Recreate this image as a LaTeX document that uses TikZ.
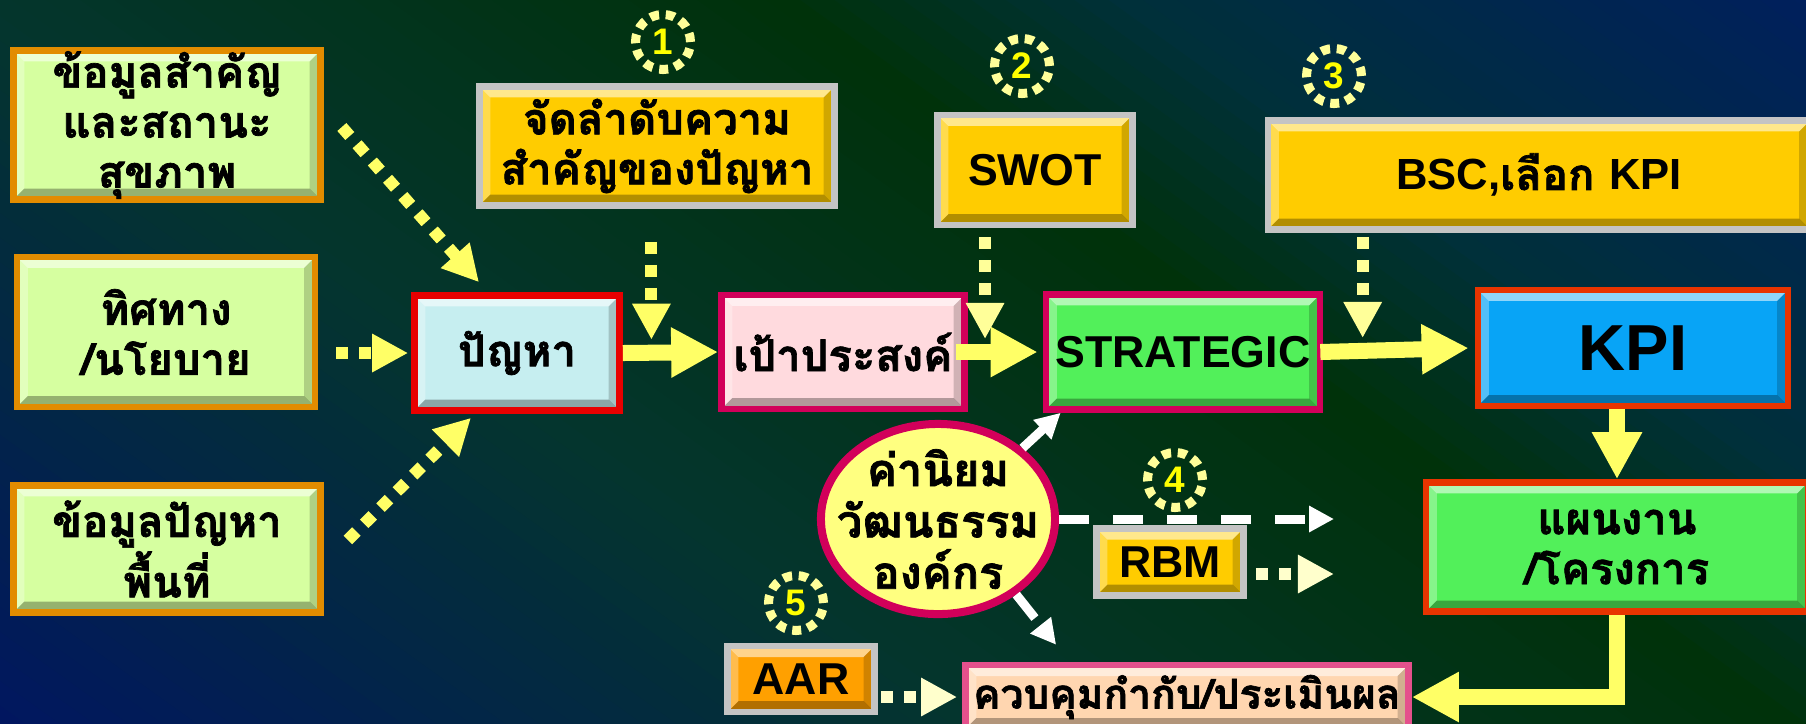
\documentclass[tikz,border=0pt]{standalone}
\usepackage{fontspec}
\setmainfont{Loma}[Script=Thai,BoldFeatures={FakeBold=1.6}]
\newfontfamily\latinfont{Liberation Sans}
\usepackage{xcolor}
\usetikzlibrary{arrows.meta,calc,positioning,shapes.geometric}
\definecolor{bgsky}{RGB}{0,30,96}
\definecolor{bgblue}{RGB}{0,48,58}
\definecolor{bggreen}{RGB}{0,50,10}
\definecolor{bgteal}{RGB}{4,53,46}
\definecolor{bgnavy}{RGB}{0,16,106}
\definecolor{limefill}{RGB}{214,255,160}
\definecolor{amberline}{RGB}{226,140,0}
\definecolor{cyanfill}{RGB}{198,238,240}
\definecolor{redline}{RGB}{232,0,0}
\definecolor{pinkfill}{RGB}{255,218,222}
\definecolor{crimsonline}{RGB}{210,0,90}
\definecolor{greenfill}{RGB}{82,240,90}
\definecolor{bluefill}{RGB}{8,164,246}
\definecolor{vermline}{RGB}{232,52,0}
\definecolor{goldfill}{RGB}{255,204,0}
\definecolor{orangefill}{RGB}{255,160,0}
\definecolor{silverline}{RGB}{196,196,196}
\definecolor{peachfill}{RGB}{255,214,176}
\definecolor{rosyline}{RGB}{228,80,140}
\definecolor{lemonfill}{RGB}{255,255,128}
\definecolor{arrowyellow}{RGB}{255,255,102}
\definecolor{paleyellow}{RGB}{255,255,153}
\definecolor{creamyellow}{RGB}{255,255,204}
\definecolor{numyellow}{RGB}{255,255,0}
\tikzset{%
	bevel/.style     = {path picture={
		\coordinate (bnw) at (path picture bounding box.north west);
		\coordinate (bne) at (path picture bounding box.north east);
		\coordinate (bsw) at (path picture bounding box.south west);
		\coordinate (bse) at (path picture bounding box.south east);
		\fill[white,opacity=.55] (bnw) -- (bne) -- ([xshift=-0.11cm,yshift=-0.11cm]bne) -- ([xshift=0.11cm,yshift=-0.11cm]bnw) -- cycle;
		\fill[white,opacity=.3] (bnw) -- (bsw) -- ([xshift=0.11cm,yshift=0.11cm]bsw) -- ([xshift=0.11cm,yshift=-0.11cm]bnw) -- cycle;
		\fill[black,opacity=.3] (bsw) -- (bse) -- ([xshift=-0.11cm,yshift=0.11cm]bse) -- ([xshift=0.11cm,yshift=0.11cm]bsw) -- cycle;
		\fill[black,opacity=.18] (bne) -- (bse) -- ([xshift=-0.11cm,yshift=0.11cm]bse) -- ([xshift=-0.11cm,yshift=-0.11cm]bne) -- cycle;}},
	box/.style       = {rectangle, line width=0.065cm, inner sep=0pt, align=center, font=\fontsize{12.4}{14.2}\selectfont\bfseries, bevel},
	latinbox/.style  = {font=\latinfont\fontsize{12.7}{14.2}\selectfont\bfseries},
	infobox/.style   = {box, draw=amberline, fill=limefill},
	toolbox/.style   = {box, draw=silverline, fill=goldfill},
	valuebubble/.style = {ellipse, draw=crimsonline, line width=0.08cm, fill=lemonfill, inner sep=-0.4cm, align=center, font=\fontsize{12.8}{14.6}\selectfont\bfseries},
	numcircle/.style = {circle, draw=paleyellow, line width=0.09cm, dash pattern=on 0.09cm off 0.067cm, minimum size=0.55cm, inner sep=0pt, text=numyellow, font=\latinfont\fontsize{10.5}{12}\selectfont\bfseries},
	flowarrow/.style = {draw=arrowyellow, line width=0.16cm, -{Triangle[width=0.47cm,length=0.47cm]}},
	dotarrow/.style  = {draw=arrowyellow, line width=0.12cm, dash pattern=on 0.12cm off 0.11cm, -{Triangle[width=0.36cm,length=0.36cm]}},
	dasharrow/.style = {draw=white, line width=0.09cm, dash pattern=on 0.3cm off 0.24cm, -{Triangle[width=0.25cm,length=0.25cm]}},
}
\begin{document}
\begin{tikzpicture}[x=0.01cm,y=-0.01cm]
	\useasboundingbox (0,0) rectangle (1806,723);
	\begin{scope}  % background, diagonal bands
		\clip (0,0) rectangle (1806,723);
		\begin{scope}[shift={(800,0)},rotate=-35.7]
			\foreach \k [evaluate=\k as \p using \k*100/22] in {0,...,21}
				\fill[bgblue!\p!bgsky] (-800,{-640+\k*20}) -- (1400,{-640+\k*20}) -- (1400,{-619+\k*20}) -- (-800,{-619+\k*20}) -- cycle;
			\foreach \k [evaluate=\k as \p using \k*100/10] in {0,...,9}
				\fill[bggreen!\p!bgblue] (-800,{-200+\k*20}) -- (1400,{-200+\k*20}) -- (1400,{-179+\k*20}) -- (-800,{-179+\k*20}) -- cycle;
			\foreach \k [evaluate=\k as \p using \k*100/24] in {0,...,23}
				\fill[bgteal!\p!bggreen] (-800,{\k*20}) -- (1400,{\k*20}) -- (1400,{21+\k*20}) -- (-800,{21+\k*20}) -- cycle;
			\foreach \k [evaluate=\k as \p using \k*100/34] in {0,...,34}
				\fill[bgnavy!\p!bgteal] (-800,{480+\k*20}) -- (1400,{480+\k*20}) -- (1400,{501+\k*20}) -- (-800,{501+\k*20}) -- cycle;
		\end{scope}
	\end{scope}
	% inputs
	\node[infobox, minimum width=3.07cm, minimum height=1.49cm] (infoA) at (167,125) {ข้อมูลสำคัญ\\และสถานะ\\สุขภาพ};
	\node[infobox, minimum width=2.98cm, minimum height=1.50cm] (infoB) at (166,332) {ทิศทาง\\/นโยบาย};
	\node[infobox, minimum width=3.07cm, minimum height=1.27cm] (infoC) at (167,549) {ข้อมูลปัญหา\\พื้นที่};
	% main chain
	\node[box, draw=redline, fill=cyanfill, minimum width=2.05cm, minimum height=1.15cm] (problem) at (517,353) {ปัญหา};
	\node[box, draw=crimsonline, fill=pinkfill, minimum width=2.43cm, minimum height=1.14cm] (goal) at (843,352) {เป้าประสงค์};
	\node[box, latinbox, draw=crimsonline, fill=greenfill, minimum width=2.74cm, minimum height=1.15cm] (strat) at (1183,352) {STRATEGIC};
	\node[box, draw=vermline, fill=bluefill, minimum width=3.10cm, minimum height=1.16cm, font=\latinfont\fontsize{18.5}{20}\selectfont\bfseries] (kpi) at (1633,348) {KPI};
	\node[box, draw=vermline, fill=greenfill, minimum width=3.82cm, minimum height=1.29cm] (plan) at (1617,547) {แผนงาน\\/โครงการ};
	\node[box, draw=rosyline, fill=peachfill, minimum width=4.43cm, minimum height=0.64cm, font=\fontsize{11.6}{14}\selectfont\bfseries] (control) at (1187,697) {ควบคุมกำกับ/ประเมินผล};
	% tools
	\node[toolbox, minimum width=3.55cm, minimum height=1.19cm] (rank) at (657,146) {จัดลำดับความ\\สำคัญของปัญหา};
	\node[toolbox, latinbox, minimum width=1.95cm, minimum height=1.10cm] (swot) at (1035,170) {SWOT};
	\node[toolbox, minimum width=5.42cm, minimum height=1.09cm] (bsc) at (1539,175) {{\latinfont BSC,}เลือก {\latinfont KPI}};
	\node[toolbox, latinbox, minimum width=1.47cm, minimum height=0.67cm] (rbm) at (1170,562) {RBM};
	\node[toolbox, latinbox, fill=orangefill, minimum width=1.47cm, minimum height=0.66cm] (aar) at (801,679) {AAR};
	\node[valuebubble, minimum width=2.34cm, minimum height=1.90cm] (values) at (938,519) {ค่านิยม\\วัฒนธรรม\\องค์กร};
	% step numbers
	\node[numcircle] (n1) at (663,42) {1};
	\node[numcircle] (n2) at (1022,66) {2};
	\node[numcircle] (n3) at (1334,76) {3};
	\node[numcircle] (n4) at (1175,480) {4};
	\node[numcircle] (n5) at (796,603) {5};
	\coordinate (j1) at ($(problem.east)!0.3!(goal.west)$);
	\coordinate (j2) at ($(goal.east)!0.23!(strat.west)$);
	\coordinate (j3) at ($(strat.east)!0.26!(kpi.west)$);
	\coordinate (valend) at (1334,519);
	\coordinate (rbmend) at (1334,574);
	% block arrows
	\draw[flowarrow] (problem.east) -- (goal.west);
	\draw[flowarrow] ($(goal.east)+(-12,0)$) -- ($(strat.west)+(-5,0)$);
	\draw[flowarrow] ($(strat.east)+(-3,0)$) -- ($(kpi.west)+(-6,0)$);
	\draw[flowarrow] (kpi.south -| plan.north) -- (plan.north);
	\draw[flowarrow] (plan.south) |- (control.east);
	% dotted inputs
	\draw[dotarrow] ($(infoA.east)+(18,2)$) -- ($(problem.north)+(-38,-10)$);
	\draw[dotarrow] ($(infoB.east |- problem.west)+(18,0)$) -- ($(problem.west)+(-3,0)$);
	\draw[dotarrow] ($(infoC.east)+(24,-9)$) -- ($(problem.south)+(-46,4)$);
	\draw[dotarrow] ($(rank.south -| j1)+(0,33)$) -- ($(j1)+(0,-13)$);
	\draw[dotarrow, draw=paleyellow] ($(swot.south -| j2)+(0,9)$) -- ($(j2)+(0,-13)$);
	\draw[dotarrow, draw=paleyellow] ($(bsc.south -| j3)+(0,4)$) -- ($(j3)+(0,-13)$);
	\draw[dotarrow, draw=creamyellow] ($(rbm.east |- rbmend)+(9,0)$) -- (rbmend);
	\draw[dotarrow, draw=creamyellow] ($(aar.east |- control.west)+(3,0)$) -- ($(control.west)+(-5,0)$);
	% values
	\draw[dasharrow] (values.40) -- ($(strat.south west)+(18,0)$);
	\draw[dasharrow] (values.east) -- (valend);
	\draw[dasharrow] (values.-44) -- ($(control.north west)+(94,-17)$);
\end{tikzpicture}
\end{document}
